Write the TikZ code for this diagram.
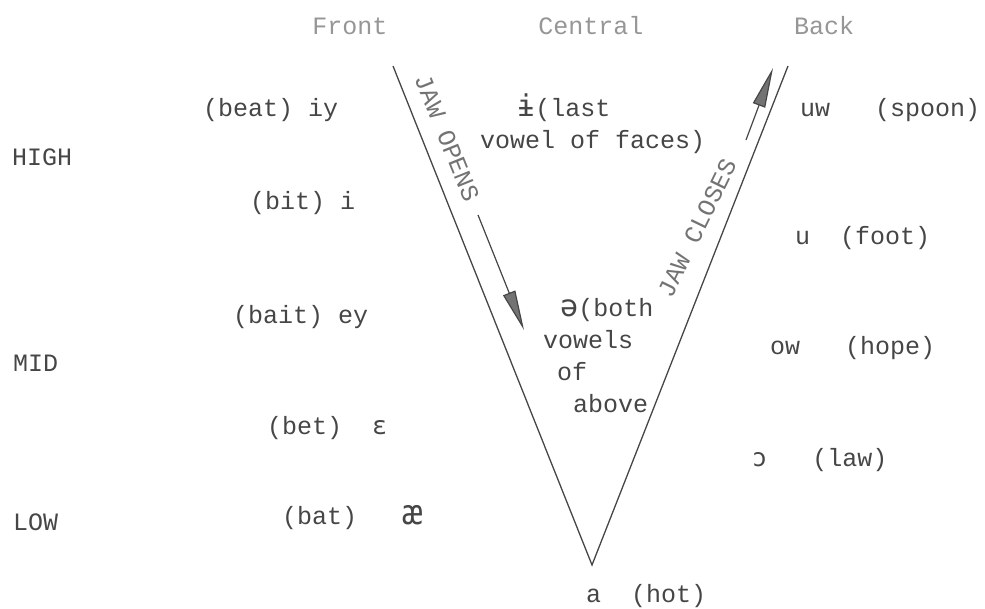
\documentclass[tikz,border=0pt]{standalone}
\usepackage{fontspec}
\setmonofont{Liberation Mono}
\newfontfamily\ipafont{DejaVu Sans Mono}
\usepackage{tikz}
\usetikzlibrary{arrows.meta}
\definecolor{inkgray}{RGB}{70,70,70}
\definecolor{fadegray}{RGB}{150,150,150}
\definecolor{headgray}{RGB}{115,115,115}

\begin{document}
\begin{tikzpicture}[x=1pt, y=-1pt,
    vowel/.style={anchor=west, inner sep=0pt, text=inkgray,
                  font=\ttfamily\fontsize{25}{32}\selectfont},
    headword/.style={vowel, anchor=center, text=fadegray},
    tonguelevel/.style={vowel},
    jawtext/.style={vowel, anchor=center, text=headgray},
    jawline/.style={draw=inkgray, line width=1.3pt},
    jawarrow/.style={draw=inkgray, line width=1.2pt,
                     -{Triangle[length=40pt, width=13pt, fill=headgray]}}]
  \useasboundingbox (0,0) rectangle (985,609);

  \node[headword] (front) at (350,26) {Front};
  \node[headword] (central) at (591,26) {Central};
  \node[headword] (back) at (824,26) {Back};

  \node[tonguelevel] (high) at (12,157) {HIGH};
  \node[tonguelevel] (mid) at (13,363) {MID};
  \node[tonguelevel] (low) at (13,522) {LOW};

  \node[vowel] (beat) at (203,110) {(beat) iy};
  \node[vowel] (bit) at (250,203) {(bit) i};
  \node[vowel] (bait) at (233,317) {(bait) ey};
  \node[vowel] (bet) at (267,428) {(bet)~~{\ipafont ɛ}};
  \node[vowel] (bat) at (282,518) {(bat)~~~{\ipafont\fontsize{34}{34}\selectfont æ}};

  \node[vowel, align=left] (faces) at (480,124)
    {\hspace{37pt}{\ipafont\fontsize{30}{32}\selectfont ɨ}(last\\vowel of faces)};
  \node[vowel, align=left] (schwa) at (543,356)
    {\hspace{17pt}{\ipafont\fontsize{30}{32}\selectfont ə}(both\\vowels\\\hspace{14pt}of\\\hspace{30pt}above};

  \node[vowel] (spoon) at (800,110) {uw~~~(spoon)};
  \node[vowel] (foot) at (795,238) {u~~(foot)};
  \node[vowel] (hope) at (770,348) {ow~~~(hope)};
  \node[vowel] (law) at (752,460) {{\ipafont ɔ}~~~(law)};
  \node[vowel] (hot) at (586,596) {a~~(hot)};

  \coordinate (lefttop) at (393,66);
  \coordinate (vertex) at (592,565);
  \coordinate (righttop) at (788,66);
  \draw[jawline] (lefttop) -- (vertex) -- (righttop);

  \coordinate (opentail) at (478,215);
  \coordinate (openhead) at (524,330);
  \coordinate (closetail) at (746,140);
  \coordinate (closehead) at (773,68);
  \draw[jawarrow] (opentail) -- (openhead);
  \draw[jawarrow] (closetail) -- (closehead);

  \node[jawtext, rotate=-68] (opens) at (447,138) {JAW OPENS};
  \node[jawtext, rotate=64] (closes) at (697,228) {JAW CLOSES};
\end{tikzpicture}
\end{document}
